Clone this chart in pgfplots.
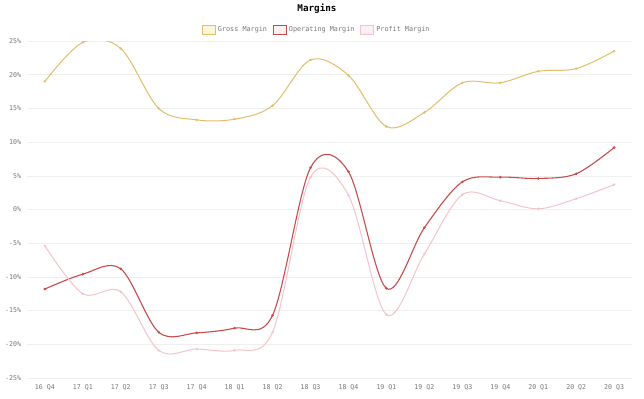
\documentclass[border=0pt]{standalone}
\usepackage{pgfplots}
\pgfplotsset{compat=1.18}
\usepackage{fontspec}
\setmainfont{DejaVu Sans Mono}
\definecolor{gold}{RGB}{226,190,105}
\definecolor{goldfill}{RGB}{252,245,218}
\definecolor{oprd}{RGB}{200,76,76}
\definecolor{oprdfill}{RGB}{253,240,240}
\definecolor{pnk}{RGB}{243,196,201}
\definecolor{pnkfill}{RGB}{254,240,242}
\definecolor{lbl}{RGB}{120,120,120}
\definecolor{grd}{RGB}{239,239,239}
\begin{document}
\begin{tikzpicture}
\useasboundingbox (0,0) rectangle (644bp,399bp);
\fill[white] (0,0) rectangle (644bp,399bp);
\node[font=\fontsize{9.3bp}{11bp}\selectfont\bfseries, text=black] at (317bp,390bp) {Margins};
\begin{axis}[
  at={(27bp,21bp)}, anchor=south west,
  scale only axis, width=605bp, height=337bp,
  xmin=-0.47, xmax=15.47, ymin=-25, ymax=25,
  axis line style={draw=none}, tick style={draw=none},
  major tick length=0pt,
  xtick={0,...,15},
  xticklabels={16 Q4,17 Q1,17 Q2,17 Q3,17 Q4,18 Q1,18 Q2,18 Q3,18 Q4,19 Q1,19 Q2,19 Q3,19 Q4,20 Q1,20 Q2,20 Q3},
  ytick={-25,-20,...,25},
  yticklabels={-25\%,-20\%,-15\%,-10\%,-5\%,0\%,5\%,10\%,15\%,20\%,25\%},
  /pgf/number format/assume math mode=true,
  ymajorgrids, major grid style={grd, line width=0.6bp},
  ticklabel style={font=\fontsize{6.6bp}{8bp}\selectfont, text=lbl},
  yticklabel style={xshift=-2.5bp},
  xticklabel style={yshift=-3.5bp},
  legend style={at={(axis description cs:0.479,1.0326)}, anchor=center, draw=none, fill=none,
    font=\fontsize{6.8bp}{8bp}\selectfont, text=lbl, inner sep=0pt,
    /tikz/every even column/.append style={column sep=4bp}},
  legend columns=3,
  every axis plot/.append style={smooth, tension=0.55, line width=1.0bp, mark=*, mark size=0.65bp},
]
\addplot[gold, mark options={fill=gold!75!black, draw=none},
  legend image code/.code={\draw[draw=gold, fill=goldfill, line width=0.9bp] (0bp,-4.2bp) rectangle (13bp,4.2bp);}]
  coordinates {(0,19.0) (1,24.8) (2,23.9) (3,15.0) (4,13.3) (5,13.4) (6,15.4) (7,22.2) (8,19.9) (9,12.3) (10,14.4) (11,18.8) (12,18.8) (13,20.5) (14,20.9) (15,23.5)};
\addlegendentry{Gross Margin}
\addplot[oprd, line width=1.1bp, mark options={fill=oprd!80!black, draw=none},
  legend image code/.code={\draw[draw=oprd, fill=oprdfill, line width=0.9bp] (0bp,-4.2bp) rectangle (13bp,4.2bp);}]
  coordinates {(0,-11.8) (1,-9.6) (2,-8.8) (3,-18.2) (4,-18.3) (5,-17.6) (6,-15.7) (7,6.2) (8,5.6) (9,-11.7) (10,-2.7) (11,4.1) (12,4.8) (13,4.6) (14,5.3) (15,9.2)};
\addlegendentry{Operating Margin}
\addplot[pnk, mark options={fill=pnk!75!black, draw=none},
  legend image code/.code={\draw[draw=pnk, fill=pnkfill, line width=0.9bp] (0bp,-4.2bp) rectangle (13bp,4.2bp);}]
  coordinates {(0,-5.4) (1,-12.5) (2,-12.2) (3,-20.9) (4,-20.7) (5,-20.9) (6,-18.2) (7,4.8) (8,2.1) (9,-15.6) (10,-6.6) (11,2.2) (12,1.3) (13,0.1) (14,1.6) (15,3.7)};
\addlegendentry{Profit Margin}
\end{axis}
\end{tikzpicture}
\end{document}
